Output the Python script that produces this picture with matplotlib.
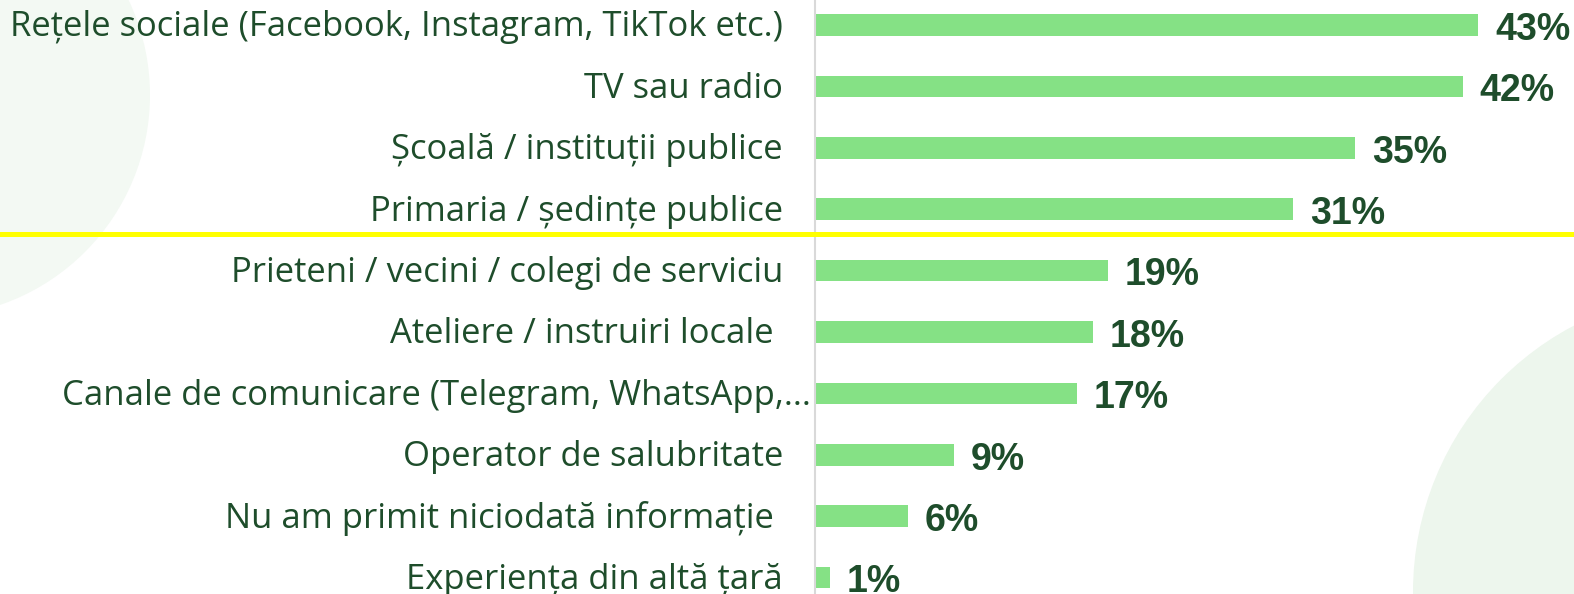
import matplotlib
matplotlib.use("Agg")
import matplotlib.pyplot as plt
import matplotlib.transforms as mtransforms
from matplotlib.patches import Circle

# survey answers, top to bottom
labels = [
    "Rețele sociale (Facebook, Instagram, TikTok etc.)",
    "TV sau radio",
    "Școală / instituții publice",
    "Primaria / ședințe publice",
    "Prieteni / vecini / colegi de serviciu",
    "Ateliere / instruiri locale ",
    "Canale de comunicare (Telegram, WhatsApp,...",
    "Operator de salubritate",
    "Nu am primit niciodată informație ",
    "Experiența din altă țară",
]
values = [43, 42, 35, 31, 19, 18, 17, 9, 6, 1]
value_labels = [f"{v}%" for v in values]

bar_color = "#85e185"
text_color = "#1e4d2b"

W, H = 1574, 594
fig = plt.figure(figsize=(W / 100, H / 100), dpi=100)

# background decoration (pixel space)
bg = fig.add_axes([0, 0, 1, 1], zorder=0)
bg.set_xlim(0, W)
bg.set_ylim(H, 0)
bg.axis("off")
bg.add_patch(Circle((-72, 95), 222, color="#f3f9f3", lw=0))
bg.add_patch(Circle((1714, 592), 301, color="#edf6ed", lw=0))

left_px = 815
ax = fig.add_axes([left_px / W, 0, 1 - left_px / W, 1], zorder=1)
ax.patch.set_alpha(0)

y = list(range(len(values)))
ax.barh(y, values, height=0.35, color=bar_color, zorder=2)

ax.set_ylim(9.267, -0.407)
ax.set_xlim(0, (W - left_px) / 15.43)

for yi, v, t in zip(y, values, value_labels):
    ax.annotate(t, (v, yi), xytext=(12, -3.5), textcoords="offset points",
                va="center", ha="left", fontsize=27, fontweight="bold",
                family="Liberation Sans", color=text_color)

ytrans = ax.get_yaxis_transform()
for yi, lab in zip(y, labels):
    gap = 4 if lab.endswith("...") else 32
    off = mtransforms.offset_copy(ytrans, fig=fig, x=-gap, y=-2.5, units="dots")
    ax.text(0, yi, lab, transform=off, ha="right", va="center",
            fontsize=24.9, family="Open Sans", color=text_color)

# yellow separator across the whole figure
sep = mtransforms.blended_transform_factory(fig.transFigure, ax.transData)
ax.plot([0, 1], [3.40, 3.40], transform=sep, color="#ffff00", lw=3.6,
        clip_on=False, zorder=3)

for s in ["top", "right", "bottom"]:
    ax.spines[s].set_visible(False)
ax.spines["left"].set_color("#d9d9d9")
ax.spines["left"].set_linewidth(1.5)
ax.set_xticks([])
ax.set_yticks([])

fig.savefig("out.png", dpi=100)
